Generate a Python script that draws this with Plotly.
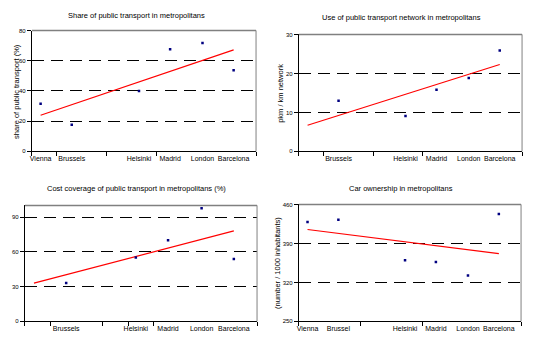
import plotly.graph_objects as go

# ---------------- data ----------------
# category positions on a 0..9 category axis
city_pos = {"Vienna": 0.35, "Brussels": 1.6, "Helsinki": 4.3, "Madrid": 5.55, "London": 6.85, "Barcelona": 8.1}

# Chart 1: share of public transport (%)
c1_cities = ["Vienna", "Brussels", "Helsinki", "Madrid", "London", "Barcelona"]
c1_values = [31.5, 17.6, 40.0, 67.6, 71.7, 53.7]
c1_trend = [23.9, 67.2]
c1_labels = ["Vienna", "Brussels", "Helsinki", "Madrid", "London", "Barcelona"]

# Chart 2: use of public transport network (pkm / km network)
c2_cities = ["Brussels", "Helsinki", "Madrid", "London", "Barcelona"]
c2_values = [13.0, 9.1, 15.8, 18.8, 25.9]
c2_trend = [6.7, 22.3]
c2_labels = ["Brussels", "Helsinki", "Madrid", "London", "Barcelona"]

# Chart 3: cost coverage (%)
c3_cities = ["Brussels", "Helsinki", "Madrid", "London", "Barcelona"]
c3_values = [33.0, 55.0, 70.0, 97.6, 53.8]
c3_trend = [33.0, 78.0]
c3_labels = ["Brussels", "Helsinki", "Madrid", "London", "Barcelona"]

# Chart 4: car ownership (number / 1000 inhabitants)
c4_cities = ["Vienna", "Brussels", "Helsinki", "Madrid", "London", "Barcelona"]
c4_values = [428.6, 432.7, 359.7, 356.7, 332.5, 442.8]
c4_trend = [415.0, 371.6]
c4_labels = ["Vienna", "Brussel", "Helsinki", "Madrid", "London", "Barcelona"]

trend_cities = ["Vienna", "Barcelona"]

titles = ["Share of public transport in metropolitans",
          "Use of public transport network in metropolitans",
          "Cost coverage of public transport in metropolitans (%)",
          "Car ownership in metropolitans"]
ytitles = ["share of public transport (%)", "pkm / km network", "", "(number / 1000 inhabitants)"]

y_ranges = [[0, 80], [0, 30], [0, 100], [250, 460]]
y_ticks = [[0, 20, 40, 60, 80], [0, 10, 20, 30], [0, 30, 60, 90], [250, 320, 390, 460]]
x_tickmarks = [[0, 1, 3, 5, 9], [0, 1, 3, 5, 9], [0, 1, 3, 4, 5, 9], [0, 2.5, 5, 9]]

# ---------------- layout geometry ----------------
W, H = 535, 346
px = lambda v: v / W
py = lambda v: 1 - v / H
domains = [
    ((px(30), px(255)), (py(151), py(28))),
    ((px(298), px(522)), (py(151), py(32))),
    ((px(23), px(256)), (py(324), py(206))),
    ((px(298), px(521)), (py(324), py(205))),
]
title_pos = [(px(135), py(13)), (px(401), py(15)), (px(135), py(189)), (px(400), py(189))]
ytitle_pos = [(px(15), None), (px(280), None), None, (px(277), None)]

FONT = "Arial, Liberation Sans, sans-serif"
fig = go.Figure()

charts = [
    (c1_cities, c1_values, c1_trend, c1_labels),
    (c2_cities, c2_values, c2_trend, c2_labels),
    (c3_cities, c3_values, c3_trend, c3_labels),
    (c4_cities, c4_values, c4_trend, c4_labels),
]

layout = dict(
    width=W, height=H, margin=dict(l=0, r=0, t=0, b=0),
    paper_bgcolor="white", plot_bgcolor="white", showlegend=False,
    font=dict(family=FONT, size=7, color="black"),
)
shapes = []
annotations = []

for i, (cities, vals, trend, labels) in enumerate(charts):
    n = i + 1
    xa = "x" if n == 1 else f"x{n}"
    ya = "y" if n == 1 else f"y{n}"
    xo = f"x{n + 4}"
    (dx, dy) = domains[i]

    fig.add_trace(go.Scatter(
        x=[city_pos[c] for c in trend_cities], y=trend, mode="lines",
        line=dict(color="#ff0000", width=1.2), xaxis=xa, yaxis=ya, hoverinfo="skip"))
    fig.add_trace(go.Scatter(
        x=[city_pos[c] for c in cities], y=vals, mode="markers",
        marker=dict(color="#000080", symbol="square", size=2.5, line=dict(width=0)),
        xaxis=xa, yaxis=ya))
    # dummy trace for tick-mark overlay axis
    fig.add_trace(go.Scatter(x=[0], y=[y_ranges[i][0]], mode="markers",
                             marker=dict(opacity=0), xaxis=xo, yaxis=ya, hoverinfo="skip"))

    layout[("xaxis" if n == 1 else f"xaxis{n}")] = dict(
        domain=list(dx), anchor=ya, range=[0, 9], showgrid=False, zeroline=False,
        showline=True, linecolor="black", linewidth=1,
        tickmode="array", tickvals=[city_pos[c] for c in cities], ticktext=labels,
        ticks="", tickfont=dict(size=7, family=FONT), fixedrange=True,
    )
    layout[f"xaxis{n + 4}"] = dict(
        overlaying=xa, anchor=ya, range=[0, 9], showgrid=False, zeroline=False,
        showline=False, tickmode="array", tickvals=x_tickmarks[i], ticks="outside",
        ticklen=4, tickcolor="black", tickwidth=1, showticklabels=False, side="bottom",
    )
    layout[("yaxis" if n == 1 else f"yaxis{n}")] = dict(
        domain=list(dy), anchor=xa, range=y_ranges[i], tickmode="array", tickvals=y_ticks[i],
        ticks="outside", ticklen=4, tickcolor="black", showline=True, linecolor="black",
        linewidth=1, showgrid=True, gridcolor="black", gridwidth=1, griddash="12px,7px",
        zeroline=False, tickfont=dict(size=6, family=FONT),
    )
    # gray top and right frame of the plot area, drawn above the grid
    shapes.append(dict(type="line", xref=f"{xa} domain", yref=f"{ya} domain",
                       x0=0, x1=1, y0=1, y1=1, line=dict(color="#808080", width=1.5),
                       layer="above"))
    shapes.append(dict(type="line", xref=f"{xa} domain", yref=f"{ya} domain",
                       x0=1, x1=1, y0=0, y1=1, line=dict(color="#808080", width=1),
                       layer="above"))
    annotations.append(dict(text=titles[i], x=title_pos[i][0], y=title_pos[i][1],
                            xref="paper", yref="paper", showarrow=False,
                            font=dict(size=7.5, family=FONT), xanchor="center", yanchor="middle"))
    if ytitles[i]:
        annotations.append(dict(text=ytitles[i], x=ytitle_pos[i][0], y=(dy[0] + dy[1]) / 2,
                                xref="paper", yref="paper", showarrow=False, textangle=-90,
                                font=dict(size=7.5, family=FONT), xanchor="center", yanchor="middle"))

layout["shapes"] = shapes
layout["annotations"] = annotations
fig.update_layout(**layout)
fig.write_html("out.html")
